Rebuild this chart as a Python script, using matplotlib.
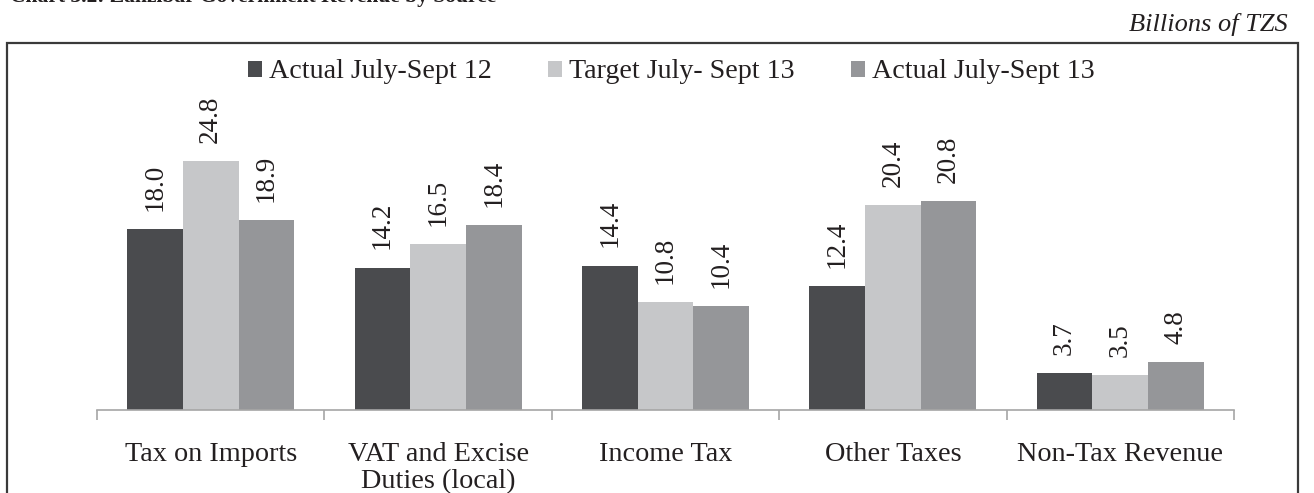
import matplotlib
matplotlib.use('Agg')
import matplotlib.pyplot as plt
import matplotlib.patches as patches
import numpy as np

categories = ['Tax on Imports', 'VAT and Excise\nDuties (local)', 'Income Tax', 'Other Taxes', 'Non-Tax Revenue']
series_names = ['Actual July-Sept 12', 'Target July- Sept 13', 'Actual July-Sept 13']
actual_12 = [18.0, 14.2, 14.4, 12.4, 3.7]
target_13 = [24.8, 16.5, 10.8, 20.4, 3.5]
actual_13 = [18.9, 18.4, 10.4, 20.8, 4.8]
colors = ['#4a4b4e', '#c6c7c9', '#959699']

plt.rcParams['font.family'] = ['Liberation Serif', 'DejaVu Serif']
txt = '#231f20'

fig = plt.figure(figsize=(13.14, 4.93), dpi=100)
ax = fig.add_axes([97/1314, 1-410/493, 1137/1314, 301/493])

x = np.arange(len(categories))
w = 0.245
for i, (vals, name) in enumerate(zip([actual_12, target_13, actual_13], series_names)):
    bars = ax.bar(x + (i-1)*w, vals, w, color=colors[i], label=name)
    for b, v in zip(bars, vals):
        ax.annotate('%.1f' % v, (b.get_x()+b.get_width()/2, v), xytext=(0, 13),
                    textcoords='offset points', rotation=90, ha='center', va='bottom',
                    fontsize=19.5, color=txt)

ax.set_xlim(-0.5, len(categories)-0.5)
ax.set_ylim(0, 30)
for s in ['top', 'left', 'right']:
    ax.spines[s].set_visible(False)
ax.spines['bottom'].set_color('#a6a6a6')
ax.spines['bottom'].set_linewidth(1.2)
ax.set_yticks([])
ax.set_xticks(np.arange(-0.5, len(categories)), minor=False)
ax.set_xticklabels([])
ax.tick_params(axis='x', which='major', length=7, color='#a6a6a6', width=1.2)
ax.set_xticks(x, minor=True)
ax.set_xticklabels(categories, minor=True, fontsize=20.3, color=txt, linespacing=1.1)
ax.tick_params(axis='x', which='minor', length=0, pad=23)

fig.legend(loc='center', bbox_to_anchor=(0.511, 1-72/493), ncol=3, frameon=False,
           fontsize=20.2, handlelength=0.5, handleheight=0.5, handletextpad=0.25,
           columnspacing=2.0, labelcolor=txt)

# outer frame
fig.patches.append(patches.Rectangle((7/1314, -0.1), (1298-7)/1314, 1.1-43/493, fill=False,
                                     edgecolor='#3a3a3a', linewidth=1.6, transform=fig.transFigure))
fig.text(1288/1314, 1-25/493, 'Billions of TZS', ha='right', va='center', fontsize=19,
         style='italic', color=txt)
# title sits mostly above the visible area, as in the source page crop
fig.text(10/1314, 1-2/493, 'Chart 3.2: Zanzibar Government Revenue by Source', ha='left',
         va='baseline', fontsize=15.5, fontweight='bold', color=txt)

plt.savefig('out.png', dpi=100)
